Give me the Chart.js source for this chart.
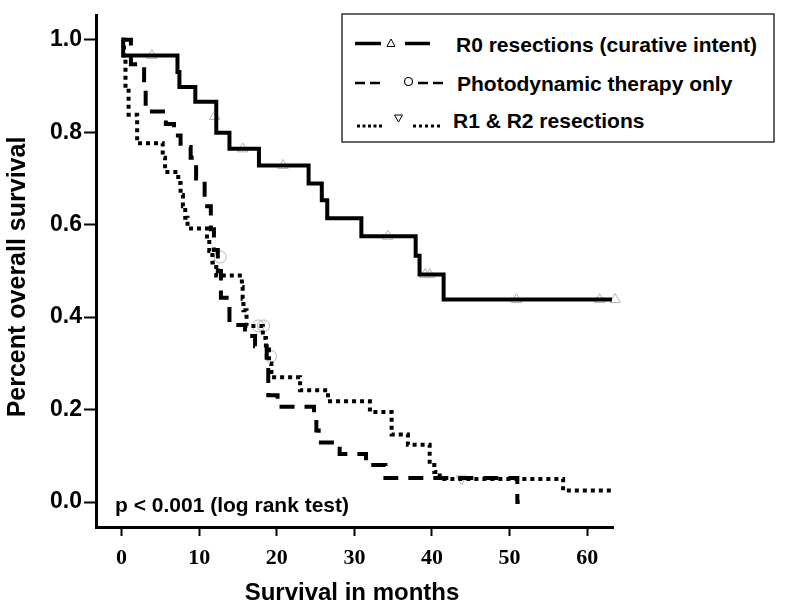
<!DOCTYPE html>
<html><head><meta charset="utf-8">
<script src="https://cdn.jsdelivr.net/npm/chart.js@4/dist/chart.umd.min.js"></script>
<style>
html,body{margin:0;padding:0;background:#fff;}
#wrap{position:relative;width:800px;height:608px;}
#legend{position:absolute;left:0;top:0;}
</style></head><body>
<div id="wrap"><canvas id="c" width="800" height="608"></canvas>
<svg id="legend" width="800" height="150" xmlns="http://www.w3.org/2000/svg">
  <rect x="342" y="14" width="432" height="128" fill="#fff" stroke="#333" stroke-width="1.5"/>
  <!-- row 1 -->
  <line x1="355" y1="43.5" x2="381" y2="43.5" stroke="#000" stroke-width="3.5"/>
  <polygon points="391,39 395,46.5 387,46.5" fill="none" stroke="#000" stroke-width="1"/>
  <line x1="405" y1="43.5" x2="430" y2="43.5" stroke="#000" stroke-width="3.5"/>
  <text x="456" y="52" font-family="Liberation Sans, Arial, sans-serif" font-weight="bold" font-size="21">R0 resections (curative intent)</text>
  <!-- row 2 -->
  <line x1="355" y1="83" x2="380" y2="83" stroke="#000" stroke-width="2.5" stroke-dasharray="10,5"/>
  <circle cx="408.5" cy="81.5" r="4" fill="none" stroke="#000" stroke-width="1.2"/>
  <line x1="418" y1="83" x2="445" y2="83" stroke="#000" stroke-width="2.5" stroke-dasharray="10,5"/>
  <text x="457" y="91" font-family="Liberation Sans, Arial, sans-serif" font-weight="bold" font-size="21">Photodynamic therapy only</text>
  <!-- row 3 -->
  <line x1="357" y1="126" x2="383" y2="126" stroke="#000" stroke-width="3" stroke-dasharray="3,2.5"/>
  <polygon points="394.5,115 402.5,115 398.5,122" fill="none" stroke="#000" stroke-width="1"/>
  <line x1="413" y1="126" x2="443" y2="126" stroke="#000" stroke-width="3" stroke-dasharray="3,3"/>
  <text x="453" y="127.5" font-family="Liberation Sans, Arial, sans-serif" font-weight="bold" font-size="21">R1 &amp; R2 resections</text>
</svg></div>
<script>
// ---- data ----
const xTickValues = [0, 10, 20, 30, 40, 50, 60];
const yTickValues = [0, 0.2, 0.4, 0.6, 0.8, 1.0];

const r0Months   = [0, 0.2, 7.2, 7.45, 9.5, 12.2, 13.9, 17.7, 24.1, 25.8, 26.5, 30.9, 37.9, 38.4, 41.5, 63.2];
const r0Survival = [1.0, 0.966, 0.930, 0.898, 0.866, 0.799, 0.764, 0.728, 0.689, 0.653, 0.614, 0.575, 0.533, 0.492, 0.438, 0.438];
const r0CensorMonths   = [3.9, 12.0, 15.6, 20.8, 34.3, 39.1, 39.7, 50.9, 61.6, 63.6];
const r0CensorSurvival = [0.966, 0.834, 0.764, 0.728, 0.575, 0.492, 0.492, 0.438, 0.438, 0.438];

const pdtMonths   = [0, 1.2, 2.9, 3.1, 5.7, 6.75, 7.6, 8.9, 9.6, 10.7, 11.5, 11.9, 12.4, 12.8, 13.9, 15.9, 17.2, 18.7, 18.9, 20.1, 24.8, 25.1, 25.4, 28.1, 31.5, 34.0, 51.0, 51.3];
const pdtSurvival = [1.0, 0.947, 0.895, 0.845, 0.818, 0.793, 0.768, 0.745, 0.70, 0.64, 0.59, 0.545, 0.50, 0.442, 0.383, 0.359, 0.337, 0.29, 0.231, 0.206, 0.18, 0.155, 0.129, 0.104, 0.080, 0.052, 0.0, 0.0];
const pdtCensorMonths   = [12.7, 17.6, 18.3, 19.2];
const pdtCensorSurvival = [0.53, 0.381, 0.381, 0.315];

const r12Months   = [0, 0.3, 0.5, 0.9, 2.0, 5.3, 5.6, 7.3, 7.6, 7.9, 8.2, 8.5, 11.0, 11.3, 11.7, 12.2, 15.5, 15.6, 15.7, 16.1, 18.2, 18.6, 19.0, 19.3, 23.0, 26.6, 32.0, 34.8, 36.9, 39.7, 40.3, 41.0, 56.9, 63.4];
const r12Survival = [1.0, 0.96, 0.895, 0.838, 0.776, 0.745, 0.714, 0.69, 0.664, 0.64, 0.615, 0.592, 0.567, 0.543, 0.518, 0.49, 0.465, 0.44, 0.415, 0.381, 0.355, 0.33, 0.30, 0.27, 0.242, 0.218, 0.195, 0.146, 0.124, 0.08, 0.065, 0.05, 0.025, 0.025];
const r12CensorMonths   = [43.8];
const r12CensorSurvival = [0.05];

const pts = (xs, ys) => xs.map((x, i) => ({x: x, y: ys[i]}));

const curve = (data, dash, w) => ({
  type: 'line', data: data, stepped: true, showLine: true,
  borderColor: '#000', borderWidth: w, borderDash: dash, borderCapStyle: 'butt',
  borderJoinStyle: 'miter', pointRadius: 0, fill: false, clip: false
});
const censor = (data, style, rot) => ({
  type: 'line', data: data, showLine: false, pointStyle: style, rotation: rot,
  pointRadius: 6, pointBorderColor: '#b4b4b4', pointBackgroundColor: 'rgba(0,0,0,0)',
  pointBorderWidth: 1, clip: false
});

const textPlugin = {
  id: 'texts',
  afterDraw(chart) {
    const ctx = chart.ctx;
    ctx.save();
    ctx.fillStyle = '#000';
    ctx.font = 'bold 24px "Liberation Sans", Arial, sans-serif';
    ctx.textAlign = 'center';
    ctx.textBaseline = 'alphabetic';
    ctx.fillText('Survival in months', 352, 600);
    ctx.save();
    ctx.font = 'bold 25px "Liberation Sans", Arial, sans-serif';
    ctx.translate(25, 277);
    ctx.rotate(-Math.PI / 2);
    ctx.fillText('Percent overall survival', 0, 0);
    ctx.restore();
    ctx.font = 'bold 21px "Liberation Sans", Arial, sans-serif';
    ctx.textAlign = 'left';
    ctx.fillText('p < 0.001 (log rank test)', 115, 512);
    ctx.restore();
  }
};

new Chart(document.getElementById('c'), {
  type: 'line',
  data: {
    datasets: [
      curve(pts(r0Months, r0Survival), [], 4),
      curve(pts(pdtMonths, pdtSurvival), [15, 10], 4),
      curve(pts(r12Months, r12Survival), [4, 4], 4),
      censor(pts(r0CensorMonths, r0CensorSurvival), 'triangle', 0),
      censor(pts(pdtCensorMonths, pdtCensorSurvival), 'circle', 0),
      censor(pts(r12CensorMonths, r12CensorSurvival), 'triangle', 180)
    ]
  },
  options: {
    responsive: false, animation: false, devicePixelRatio: 1,
    layout: {padding: {left: 0, right: 187, top: 8, bottom: 0}},
    plugins: {legend: {display: false}, tooltip: {enabled: false}},
    scales: {
      x: {
        type: 'linear', min: -3.3, max: 63.33,
        afterBuildTicks: s => { s.ticks = xTickValues.map(v => ({value: v})); },
        afterFit: s => { s.height = 81; },
        border: {display: true, color: '#000', width: 3},
        grid: {display: true, drawOnChartArea: false, drawTicks: true, tickLength: 9, tickColor: '#000', tickWidth: 2},
        ticks: {color: '#000', padding: 9, maxRotation: 0,
          font: {family: '"Liberation Serif", "Times New Roman", serif', size: 22, weight: 'bold'},
          callback: v => String(v)}
      },
      y: {
        type: 'linear', min: -0.0539, max: 1.0518,
        afterBuildTicks: s => { s.ticks = yTickValues.map(v => ({value: v})); },
        afterFit: s => { s.width = 96; },
        border: {display: true, color: '#000', width: 3},
        grid: {display: true, drawOnChartArea: false, drawTicks: true, tickLength: 12, tickColor: '#000', tickWidth: 2},
        ticks: {color: '#000', padding: 2,
          font: {family: '"Liberation Sans", Arial, sans-serif', size: 23, weight: 'bold'},
          callback: v => v.toFixed(1)}
      }
    }
  },
  plugins: [textPlugin]
});
</script>
</body></html>
